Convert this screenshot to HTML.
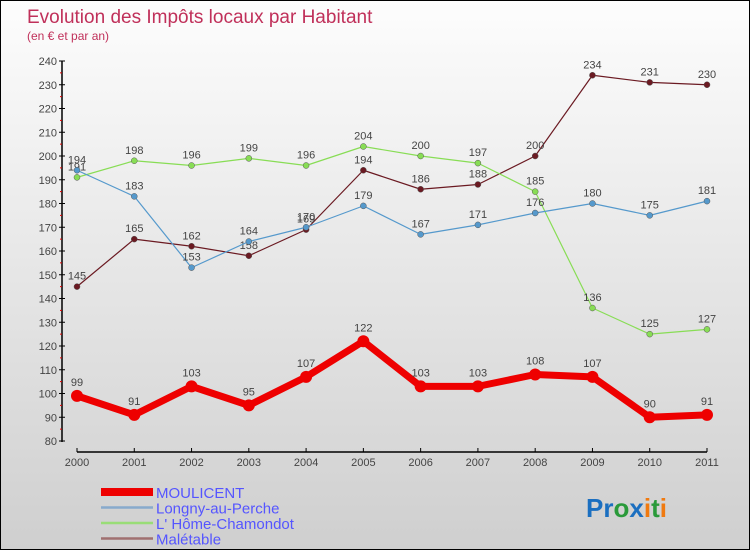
<!DOCTYPE html>
<html><head><meta charset="utf-8"><style>
body{margin:0}
#c{width:750px;height:550px;position:relative;box-sizing:border-box;border:1px solid #000;background:linear-gradient(#fdfdfd,#cfcfcf);overflow:hidden;font-family:"Liberation Sans",sans-serif}
svg text{font-family:"Liberation Sans",sans-serif}
</style></head><body>
<div id="c">
<svg width="750" height="550" id="s">
<text x="26" y="22" font-size="19" fill="#c0305a">Evolution des Impôts locaux par Habitant</text>
<text x="26" y="39" font-size="12" fill="#c0305a">(en € et par an)</text>
<g id="ax"></g><g id="ser"></g>
<text x="585" y="516" font-size="26" font-weight="bold"><tspan fill="#1b6fc0">Pr</tspan><tspan fill="#2a9a3a">o</tspan><tspan fill="#1b6fc0">x</tspan><tspan fill="#f07a10">i</tspan><tspan fill="#2a9a3a">t</tspan><tspan fill="#f07a10">i</tspan></text>
</svg>
</div>
<script>
const years=[2000,2001,2002,2003,2004,2005,2006,2007,2008,2009,2010,2011];
const yTicks=[80,90,100,110,120,130,140,150,160,170,180,190,200,210,220,230,240];
const moulicent=[99,91,103,95,107,122,103,103,108,107,90,91];
const longny=[194,183,153,164,170,179,167,171,176,180,175,181];
const home=[191,198,196,199,196,204,200,197,185,136,125,127];
const maletable=[145,165,162,158,169,194,186,188,200,234,231,230];
const NS="http://www.w3.org/2000/svg";
function X(i){return 76+i*(706-76)/(years.length-1);}
function Y(v){return 440-(v-80)*380/160;}
function mk(t,a,p){const e=document.createElementNS(NS,t);for(const k in a)e.setAttribute(k,a[k]);p.appendChild(e);return e;}
const ax=document.getElementById('ax');
let yl=mk('line',{x1:61,y1:60,x2:61,y2:441,stroke:'#000','stroke-width':1.5},ax);


yTicks.forEach(v=>{
 mk('line',{x1:58,y1:Y(v),x2:64,y2:Y(v),stroke:'#000'},ax);
 if(v<240)mk('line',{x1:59,y1:Y(v+5),x2:61,y2:Y(v+5),stroke:'#d00'},ax);
 const t=mk('text',{x:56,y:Y(v)+4,'font-size':11,fill:'#444','text-anchor':'end'},ax);t.textContent=v;
 
 
});
let xl=mk('line',{x1:76,y1:451,x2:706,y2:451,stroke:'#000','stroke-width':1.5},ax);


years.forEach((y,i)=>{
 mk('line',{x1:X(i),y1:447,x2:X(i),y2:451,stroke:'#000'},ax);
 const t=mk('text',{x:X(i),y:465,'font-size':11,fill:'#444','text-anchor':'middle'},ax);t.textContent=y;
 
 
});
const sg=document.getElementById('ser');
const series=[
 {n:'maletable',d:maletable,c:'#6b1a22',w:1.2,r:3,lab:'Malétable',lc:'#a07070'},
 {n:'home-chamondot',d:home,c:'#88dd55',w:1.2,r:3,lab:"L' Hôme-Chamondot",lc:'#99dd77'},
 {n:'longny-au-perche',d:longny,c:'#5599cc',w:1.2,r:3,lab:'Longny-au-Perche',lc:'#88aacc'},
 {n:'moulicent',d:moulicent,c:'#ee0000',w:7,r:6,lab:'MOULICENT',lc:'#ee0000'}];
series.forEach(s=>{
 const g=mk('g',{},sg);
 
 
 const pl=mk('polyline',{points:s.d.map((v,i)=>X(i)+','+Y(v)).join(' '),fill:'none',stroke:s.c,'stroke-width':s.w,'stroke-linejoin':'round'},g);
 
 
 s.d.forEach((v,i)=>{
  const p=mk('circle',{cx:X(i),cy:Y(v),r:s.r,fill:s.c,stroke:s.w>2?'none':'#555','stroke-width':0.5},g);
  
  
  const t=mk('text',{x:X(i),y:Y(v)-(s.w>2?10:7),'font-size':11,fill:'#444','text-anchor':'middle'},g);t.textContent=v;
  
  
 });
});
const leg=[series[3],series[2],series[1],series[0]];
leg.forEach((s,i)=>{
 const y=492+i*15.5;
 const g=mk('g',{},sg);
 
 
 mk('line',{x1:100,y1:y-1,x2:152,y2:y-1,stroke:s.lc,'stroke-width':i==0?8:2.5},g);
 const t=mk('text',{x:155,y:y+5,'font-size':15,fill:'#5555ff'},g);t.textContent=s.lab;
});
</script>
</body></html>
